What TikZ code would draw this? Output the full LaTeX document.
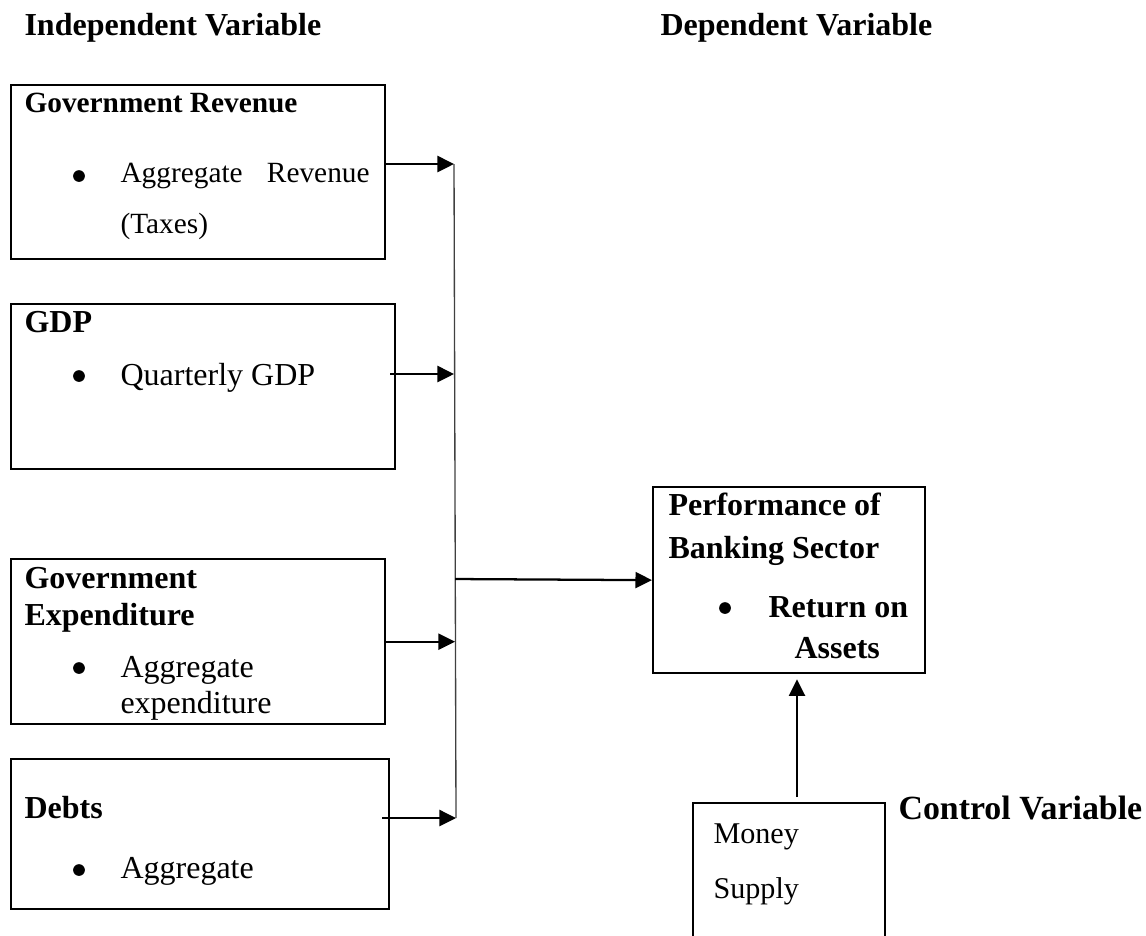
\documentclass[tikz,border=0pt]{standalone}
\usepackage{fontspec}
\setmainfont{Liberation Serif}
\usetikzlibrary{arrows.meta}

\tikzset{
	box/.style={draw, line width=0.85pt, anchor=north west, inner sep=0pt},
	txt/.style={anchor=base west, inner sep=0pt, font=\fontsize{12}{14}\selectfont},
	btxt/.style={anchor=base west, inner sep=0pt, font=\fontsize{12}{14}\selectfont\bfseries},
	small/.style={font=\fontsize{11}{13}\selectfont},
	dot/.style={circle, fill, inner sep=0pt, minimum size=4.4pt},
	arr/.style={line width=0.85pt, -{Triangle[length=6.2pt,width=6pt]}},
	bus/.style={line width=0.5pt, black!75},
}

\begin{document}
\begin{tikzpicture}[x=0.375pt, y=-0.375pt]
	\clip (0,0) rectangle (1146,935);
	\node[btxt] (indep) at (24,35) {Independent Variable};
	\node[btxt] (dep) at (660,35) {Dependent Variable};
	\node[btxt, font=\fontsize{12.7}{14}\selectfont\bfseries] (ctrl) at (898,819) {Control Variable};

	\node[box, minimum width=140.25pt, minimum height=65.25pt] (rev) at (10,84) {};
	\node[btxt, font=\fontsize{11}{13}\selectfont\bfseries] (rev-t) at (24,112) {Government Revenue};
	\node[dot] (rev-d) at (79,176) {};
	\node[txt, small] (rev-i1) at (120,182) {\makebox[93.4pt][l]{Aggregate\hfill Revenue}};
	\node[txt, small] (rev-i2) at (120,233) {(Taxes)};

	\node[box, minimum width=144pt, minimum height=61.9pt] (gdp) at (10,303) {};
	\node[btxt] (gdp-t) at (24,332) {GDP};
	\node[dot] (gdp-d) at (79,376) {};
	\node[txt] (gdp-i1) at (120,385) {Quarterly GDP};

	\node[box, minimum width=140.25pt, minimum height=61.9pt] (exp) at (10,558) {};
	\node[btxt] (exp-t1) at (24,588) {Government};
	\node[btxt] (exp-t2) at (24,625) {Expenditure};
	\node[dot] (exp-d) at (79,668) {};
	\node[txt] (exp-i1) at (120,677) {Aggregate};
	\node[txt] (exp-i2) at (120,713) {expenditure};

	\node[box, minimum width=141.75pt, minimum height=56.25pt] (debt) at (10,758) {};
	\node[btxt] (debt-t) at (24,818) {Debts};
	\node[dot] (debt-d) at (79,870) {};
	\node[txt] (debt-i1) at (120,878) {Aggregate};

	\node[box, minimum width=102pt, minimum height=69.75pt] (perf) at (652,486) {};
	\node[btxt] (perf-t1) at (668,515) {Performance of};
	\node[btxt] (perf-t2) at (668,558) {Banking Sector};
	\node[dot] (perf-d) at (725,608) {};
	\node[btxt] (perf-i1) at (768,617) {Return on};
	\node[btxt] (perf-i2) at (794,658) {Assets};

	\node[box, minimum width=72pt, minimum height=56pt] (money) at (692,802) {};
	\node[txt, font=\fontsize{11.3}{13}\selectfont] (money-t1) at (713,843) {Money};
	\node[txt, font=\fontsize{11.3}{13}\selectfont] (money-t2) at (713,898) {Supply};

	\coordinate (bustop) at (454,164);
	\coordinate (busbot) at (456,818);
	\coordinate (hub) at (455,579);
	\coordinate (up) at (797,797);
	\draw[bus] (bustop) -- (busbot);
	\draw[arr] (rev.east |- bustop) -- (bustop);
	\draw[arr] (390,374) -- (454,374);
	\draw[arr] (exp.east) -- (exp.east -| hub);
	\draw[arr] (382,818) -- (busbot);
	\draw[arr] (hub) -- (perf.west);
	\draw[arr, shorten >=1.9pt] (up) -- (up |- perf.south);
\end{tikzpicture}
\end{document}
